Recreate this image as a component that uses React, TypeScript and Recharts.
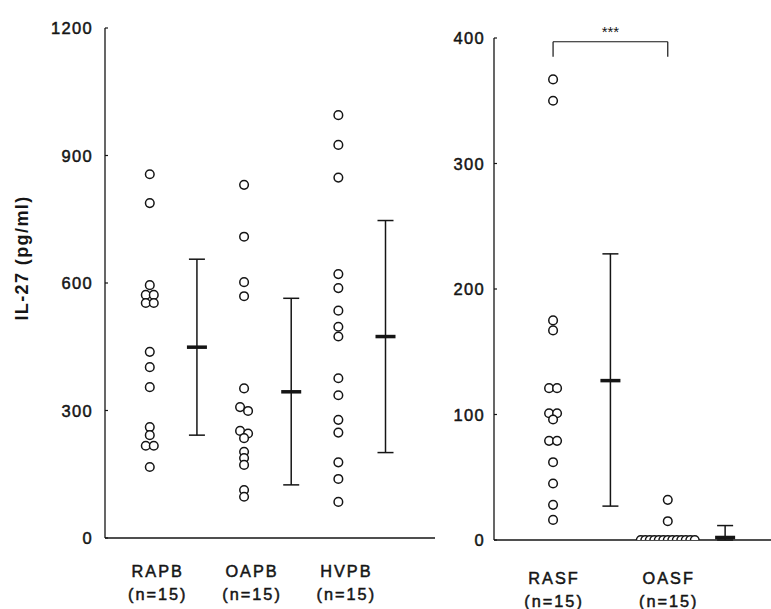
import { ScatterChart, Scatter, XAxis, YAxis, ErrorBar, ReferenceLine } from "recharts"

const leftGroups = ["RAPB", "OAPB", "HVPB"]
const rightGroups = ["RASF", "OASF"]
const groupN = "(n=15)"

const rapb = [856, 788, 595, 572, 572, 553, 553, 438, 402, 355, 261, 242, 217, 217, 167]
const oapb = [831, 709, 602, 569, 352, 308, 299, 252, 246, 235, 203, 188, 172, 113, 97]
const hvpb = [995, 925, 848, 621, 588, 535, 497, 474, 376, 336, 278, 248, 178, 139, 85]
const rasf = [367, 350, 175, 167, 121, 121, 101, 101, 96, 79, 79, 62, 45, 28, 16]
const oasf = [32, 15, 0, 0, 0, 0, 0, 0, 0, 0, 0, 0, 0, 0, 0]

// mean and [down, up] spread of each group
const leftMeans = [449, 344, 474]
const leftErr = [[207, 207], [219, 220], [273, 273]]
const rightMeans = [127, 2]
const rightErr = [[100, 101], [2, 9.5]]

const leftTicks = [0, 300, 600, 900, 1200]
const rightTicks = [0, 100, 200, 300, 400]

const bracketTop = 397
const bracketFoot = 385

const ink = "#151515"
const font = "'Liberation Sans', Arial, sans-serif"

// spread near-equal values side by side so rings don't sit on top of each other
function spread(values: number[], x: number, pxPerUnit: number) {
  const sorted = values.map((v, i) => ({ v, i })).sort((a, b) => b.v - a.v)
  const dx = new Array(values.length).fill(0)
  let row: { v: number; i: number }[] = []
  const flush = () => {
    const gap = row.length > 4 ? 4.5 : 8
    row.forEach((p, k) => (dx[p.i] = (k - (row.length - 1) / 2) * gap))
  }
  for (const s of sorted) {
    if (row.length && (row[0].v - s.v) * pxPerUnit < 4) row.push(s)
    else {
      flush()
      row = [s]
    }
  }
  flush()
  return values.map((v, i) => ({ x, y: v, dx: dx[i] }))
}

const leftPx = 510 / 1200
const rightPx = 502 / 400

const leftPoints = [
  ...spread(rapb, 1, leftPx),
  ...spread(oapb, 3, leftPx),
  ...spread(hvpb, 5, leftPx),
]
const rightPoints = [...spread(rasf, 1, rightPx), ...spread(oasf, 3, rightPx)]

const leftStats = leftMeans.map((m, i) => ({ x: 2 + i * 2, y: m, err: leftErr[i] }))
const rightStats = rightMeans.map((m, i) => ({ x: 2 + i * 2, y: m, err: rightErr[i] }))

const Ring = (p: any) => (
  <circle cx={p.cx + (p.payload?.dx ?? 0)} cy={p.cy} r={4.3} fill="#fff" stroke={ink} strokeWidth={1.5} />
)

const MeanMark = (p: any) => <rect x={p.cx - 10} y={p.cy - 1.75} width={20} height={3.5} fill={ink} />

const NumTick = ({ x, y, payload, gap }: any) => (
  <g>
    <text
      x={x}
      y={y}
      dy={6}
      textAnchor="end"
      fontSize={16.5}
      letterSpacing={1.3}
      fill={ink}
      stroke={ink}
      strokeWidth={0.5}
      fontFamily={font}
    >
      {payload.value}
    </text>
    <line x1={x + gap} x2={x + gap + 3} y1={y} y2={y} stroke={ink} strokeWidth={1.2} />
  </g>
)

const GroupTick = ({ x, y, payload, names, shift, top }: any) => (
  <g
    fontFamily={font}
    fontSize={16.3}
    letterSpacing={2}
    fill={ink}
    stroke={ink}
    strokeWidth={0.5}
    textAnchor="middle"
  >
    <text x={x + shift} y={y + top}>{names[(payload.value - 1) / 2]}</text>
    <text x={x + shift} y={y + top + 23}>{groupN}</text>
  </g>
)

export default function App() {
  return (
    <div style={{ position: "absolute", left: 0, top: 0, width: 771, height: 609, background: "#fff" }}>
      <div style={{ position: "absolute", left: 0, top: 0 }}>
        <ScatterChart width={440} height={609} margin={{ top: 28, right: 5, bottom: 0, left: 0 }}>
          <XAxis
            type="number"
            dataKey="x"
            domain={[0.05, 7.05]}
            ticks={[1, 3, 5]}
            height={71}
            tickSize={0}
            tickMargin={0}
            axisLine={{ stroke: ink, strokeWidth: 1.3 }}
            tickLine={false}
            tick={(props: any) => <GroupTick {...props} names={leftGroups} shift={8} top={39} />}
          />
          <YAxis
            type="number"
            dataKey="y"
            domain={[0, 1200]}
            ticks={leftTicks}
            allowDataOverflow
            width={105}
            tickSize={0}
            tickMargin={12}
            axisLine={{ stroke: ink, strokeWidth: 1.3 }}
            tickLine={false}
            tick={(props: any) => <NumTick {...props} gap={12} />}
            label={{
              content: ({ viewBox }: any) => (
                <text
                  x={viewBox.x + 28}
                  y={viewBox.y + viewBox.height / 2 - 25}
                  transform={`rotate(-90 ${viewBox.x + 28} ${viewBox.y + viewBox.height / 2 - 25})`}
                  textAnchor="middle"
                  fontSize={18}
                  fontWeight="bold"
                  letterSpacing={1.4}
                  fill={ink}
                  fontFamily={font}
                >
                  IL-27 (pg/ml)
                </text>
              ),
            }}
          />
          <Scatter data={leftPoints} shape={Ring} isAnimationActive={false} />
          <Scatter data={leftStats} shape={MeanMark} isAnimationActive={false}>
            <ErrorBar dataKey="err" direction="y" width={8} stroke={ink} strokeWidth={1.5} />
          </Scatter>
        </ScatterChart>
      </div>
      <div style={{ position: "absolute", left: 440, top: 0 }}>
        <ScatterChart width={331} height={609} margin={{ top: 38, right: 0, bottom: 0, left: 0 }}>
          <XAxis
            type="number"
            dataKey="x"
            domain={[-0.03, 4.8]}
            ticks={[1, 3]}
            height={69}
            tickSize={0}
            tickMargin={0}
            axisLine={{ stroke: ink, strokeWidth: 1.3 }}
            tickLine={false}
            tick={(props: any) => <GroupTick {...props} names={rightGroups} shift={1} top={44} />}
          />
          <YAxis
            type="number"
            dataKey="y"
            domain={[0, 400]}
            ticks={rightTicks}
            allowDataOverflow
            width={54}
            tickSize={0}
            tickMargin={9}
            axisLine={{ stroke: ink, strokeWidth: 1.3 }}
            tickLine={false}
            tick={(props: any) => <NumTick {...props} gap={9} />}
          />
          <ReferenceLine
            segment={[{ x: 1, y: bracketTop }, { x: 3, y: bracketTop }]}
            stroke={ink}
            strokeWidth={1.2}
            label={{ value: "***", position: "top", offset: 5, fontSize: 15, fill: ink, fontFamily: font }}
          />
          <ReferenceLine segment={[{ x: 1, y: bracketTop }, { x: 1, y: bracketFoot }]} stroke={ink} strokeWidth={1.2} />
          <ReferenceLine segment={[{ x: 3, y: bracketTop }, { x: 3, y: bracketFoot }]} stroke={ink} strokeWidth={1.2} />
          <Scatter data={rightPoints} shape={Ring} isAnimationActive={false} />
          <Scatter data={rightStats} shape={MeanMark} isAnimationActive={false}>
            <ErrorBar dataKey="err" direction="y" width={8} stroke={ink} strokeWidth={1.5} />
          </Scatter>
        </ScatterChart>
      </div>
    </div>
  )
}
